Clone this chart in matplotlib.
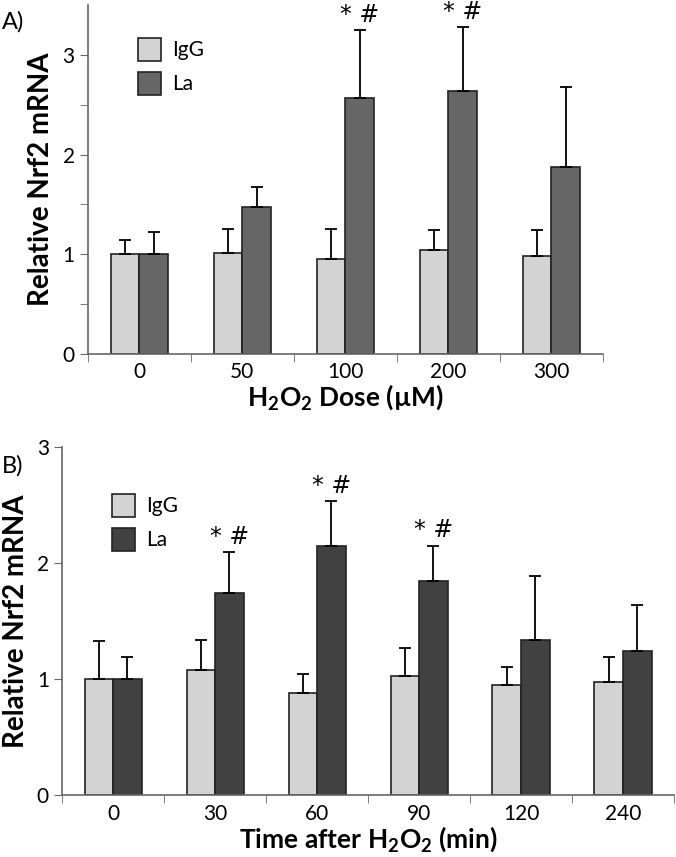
import numpy as np
import matplotlib
matplotlib.use('Agg')
import matplotlib.pyplot as plt

plt.rcParams['font.family'] = ['Lato', 'DejaVu Sans']
plt.rcParams['mathtext.fontset'] = 'custom'
plt.rcParams['mathtext.rm'] = 'Lato'
plt.rcParams['mathtext.bf'] = 'Lato:bold'

# Panel A data: H2O2 dose
dose_labels = ['0', '50', '100', '200', '300']
dose_igg = [1.0, 1.015, 0.951, 1.041, 0.978]
dose_igg_err = [0.146, 0.239, 0.303, 0.199, 0.262]
dose_la = [1.0, 1.477, 2.567, 2.634, 1.879]
dose_la_err = [0.227, 0.203, 0.683, 0.646, 0.795]
dose_marks = ['', '', '* #', '* #', '']

# Panel B data: time after H2O2
time_labels = ['0', '30', '60', '90', '120', '240']
time_igg = [1.0, 1.084, 0.881, 1.03, 0.955, 0.975]
time_igg_err = [0.334, 0.256, 0.169, 0.24, 0.151, 0.215]
time_la = [1.0, 1.74, 2.15, 1.85, 1.34, 1.243]
time_la_err = [0.19, 0.356, 0.385, 0.3, 0.55, 0.402]
time_marks = ['', '* #', '* #', '* #', '', '']

IGG_COLOR = '#d3d3d3'


def draw_panel(ax, labels, igg, igg_err, la, la_err, marks, la_color,
               ymax, minor_y, xlabel, legend_anchor):
    n = len(labels)
    x = np.arange(n)
    w = 0.28
    ekw = dict(ecolor='black', elinewidth=1.3, capsize=4, capthick=1.3)
    ax.bar(x - w / 2, igg, w, color=IGG_COLOR, edgecolor='#222222', linewidth=1.2,
           yerr=[np.zeros(n), igg_err], error_kw=ekw, label='IgG', zorder=2)
    ax.bar(x + w / 2, la, w, color=la_color, edgecolor='#222222', linewidth=1.2,
           yerr=[np.zeros(n), la_err], error_kw=ekw, label='La', zorder=2)
    for i, m in enumerate(marks):
        if m:
            ax.text(x[i] + w / 2, la[i] + la_err[i] + 0.03, m, ha='center', va='bottom',
                    fontsize=17, fontstyle='italic', family='DejaVu Sans')
    ax.set_xlim(-0.5, n - 0.5)
    ax.set_ylim(0, ymax)
    ax.set_xticks(x)
    ax.set_xticklabels(labels, fontsize=15)
    ax.set_xticks(np.arange(n + 1) - 0.5, minor=True)
    ax.tick_params(axis='x', which='major', length=0, pad=6)
    ax.tick_params(axis='x', which='minor', length=6, direction='out', color='#666666')
    ax.set_yticks(np.arange(0, int(ymax) + 1))
    ax.tick_params(axis='y', which='major', labelsize=15, length=6, color='#666666')
    if minor_y:
        ax.set_yticks(np.arange(0.5, ymax, 1.0), minor=True)
        ax.tick_params(axis='y', which='minor', length=6, color='#666666')
    for s in ['top', 'right']:
        ax.spines[s].set_visible(False)
    for s in ['left', 'bottom']:
        ax.spines[s].set_color('#666666')
        ax.spines[s].set_linewidth(1.2)
    ax.set_ylabel('Relative Nrf2 mRNA', fontsize=20, fontweight='bold', labelpad=6)
    ax.set_xlabel(xlabel, fontsize=19, fontweight='bold', labelpad=0)
    ax.legend(loc='upper left', bbox_to_anchor=legend_anchor, frameon=False,
              fontsize=15, handlelength=1.15, handleheight=1.3, labelspacing=0.55,
              handletextpad=0.5)


fig = plt.figure(figsize=(6.76, 8.57), dpi=100)
ax1 = fig.add_axes([0.130, 0.587, 0.762, 0.407])
ax2 = fig.add_axes([0.092, 0.072, 0.905, 0.406])

draw_panel(ax1, dose_labels, dose_igg, dose_igg_err, dose_la, dose_la_err, dose_marks,
           '#666666', 3.5, True, r'H$_\mathbf{2}$O$_\mathbf{2}$ Dose (µM)', (0.06, 0.96))
draw_panel(ax2, time_labels, time_igg, time_igg_err, time_la, time_la_err, time_marks,
           '#414141', 3.0, False, r'Time after H$_\mathbf{2}$O$_\mathbf{2}$ (min)', (0.05, 0.92))

fig.text(0.003, 0.975, 'A)', fontsize=17, va='center')
fig.text(0.003, 0.457, 'B)', fontsize=17, va='center')

fig.savefig('out.png', dpi=100)
